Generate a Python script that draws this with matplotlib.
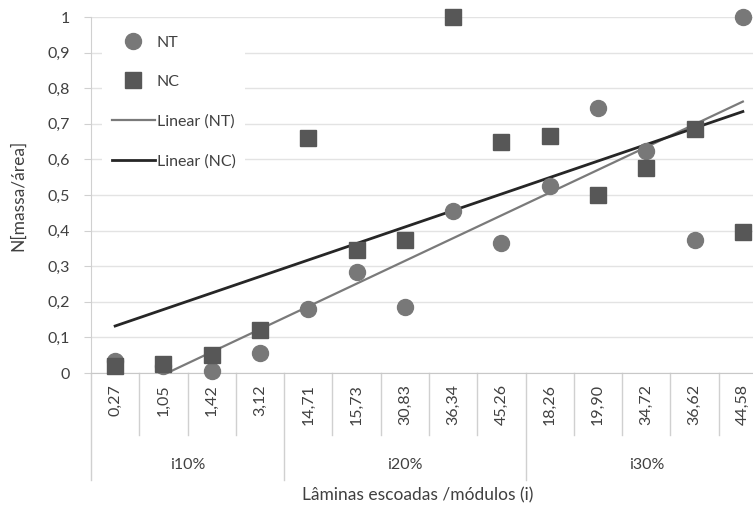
import numpy as np
import matplotlib
matplotlib.use("Agg")
import matplotlib.pyplot as plt
import matplotlib.transforms as mtransforms

plt.rcParams['font.family'] = ['Lato', 'DejaVu Sans']

categories = ["0,27", "1,05", "1,42", "3,12", "14,71", "15,73", "30,83", "36,34",
              "45,26", "18,26", "19,90", "34,72", "36,62", "44,58"]
groups = ["i10%", "i20%", "i30%"]
group_sizes = [4, 5, 5]
nt = [0.035, 0.02, 0.005, 0.055, 0.18, 0.285, 0.185, 0.455, 0.365, 0.525, 0.745, 0.625, 0.375, 1.0]
nc = [0.02, 0.025, 0.05, 0.12, 0.66, 0.345, 0.375, 1.0, 0.65, 0.665, 0.50, 0.575, 0.685, 0.395]

W, H = 753, 511
fig = plt.figure(figsize=(W/100, H/100), dpi=100)
left, right, top, bottom = 91, 767, 17, 373
ax = fig.add_axes([left/W, 1-bottom/H, (right-left)/W, (bottom-top)/H])

x = np.arange(1, len(categories)+1)
ax.set_xlim(0.5, len(categories)+0.5)
ax.set_ylim(0, 1)

ax.set_yticks(np.round(np.arange(0, 1.01, 0.1), 1))
ax.set_yticklabels(["0"] + [f"{v:.1f}".replace('.', ',') for v in np.arange(0.1, 0.95, 0.1)] + ["1"])
ax.yaxis.grid(True, color='#e3e3e3', linewidth=1.0)
ax.set_axisbelow(True)
for s in ['top', 'right']:
    ax.spines[s].set_visible(False)
ax.spines['left'].set_color('#d0d0d0')
ax.spines['bottom'].set_color('#c8c8c8')
ax.tick_params(axis='y', length=5, color='#d0d0d0', labelsize=11.5, labelcolor='#404040', pad=10)
ax.set_xticks(x)
ax.set_xticklabels(categories, rotation=90, fontsize=11.5, color='#404040')
ax.tick_params(axis='x', length=0, pad=8)

# trendlines (least-squares fit of each series, clipped at the axis minimum)
for vals, col, lw, lab in [(nt, '#7a7a7a', 1.6, 'Linear (NT)'), (nc, '#262626', 2.0, 'Linear (NC)')]:
    m, b = np.polyfit(x, vals, 1)
    x0 = 1.0
    if m*x0 + b < 0:
        x0 = -b/m
    xs = np.array([x0, len(categories)])
    ax.plot(xs, m*xs + b, color=col, linewidth=lw, label=lab, zorder=3)

ax.plot(x, nt, 'o', color='#787878', markersize=11.5, label='NT', clip_on=False, zorder=4)
ax.plot(x, nc, 's', color='#575757', markersize=11.5, label='NC', clip_on=False, zorder=4)

# category separators
trans = mtransforms.blended_transform_factory(ax.transData, ax.transAxes)
bounds = np.arange(0.5, len(categories)+1, 1.0)
group_edges = np.cumsum([0] + group_sizes) + 0.5
for bx in bounds:
    yb = -0.30 if bx in group_edges else -0.174
    ax.plot([bx, bx], [0, yb], transform=trans, color='#d0d0d0', linewidth=1.0, clip_on=False)

start = 0.5
for g, n in zip(groups, group_sizes):
    ax.text(start + n/2, -0.258, g, transform=trans, ha='center', va='center',
            fontsize=11.5, color='#404040')
    start += n

fig.text(418/W, 1-495/H, "Lâminas escoadas /módulos (i)", ha='center', va='center',
         fontsize=12.5, color='#404040')
fig.text(18/W, 1-195/H, "N[massa/área]", ha='center', va='center', rotation=90,
         fontsize=12.5, color='#404040')

handles, labels = ax.get_legend_handles_labels()
order = [2, 3, 0, 1]
leg = ax.legend([handles[i] for i in order], [labels[i] for i in order],
                loc='upper left', bbox_to_anchor=(0.012, 0.984), frameon=True,
                facecolor='white', edgecolor='none', framealpha=1, fontsize=11.5,
                handlelength=2.7, handletextpad=0.1, labelspacing=1.58,
                borderpad=0.6, borderaxespad=0.2, numpoints=1)
for t in leg.get_texts():
    t.set_color('#404040')

fig.savefig("out.png", dpi=100)
